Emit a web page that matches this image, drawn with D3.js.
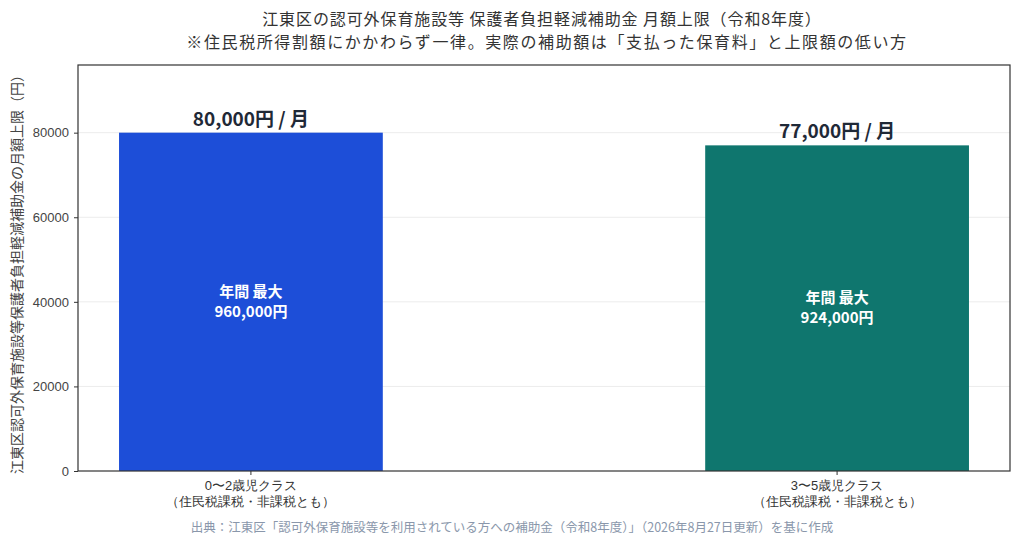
<!DOCTYPE html>
<html>
<head>
<meta charset="utf-8">
<script src="https://cdn.jsdelivr.net/npm/d3@7"></script>
<style>
  body { margin: 0; background: #fff; }
  svg { display: block; font-family: "Noto Sans CJK JP", "Noto Sans", sans-serif; }
</style>
</head>
<body>
<div id="chart"></div>
<script>
const categories = ["0〜2歳児クラス\n（住民税課税・非課税とも）", "3〜5歳児クラス\n（住民税課税・非課税とも）"];
const monthlyLimit = [80000, 77000];
const topLabels = ["80,000円 / 月", "77,000円 / 月"];
const innerLabels = [["年間 最大", "960,000円"], ["年間 最大", "924,000円"]];
const barColors = ["#1d4ed8", "#0f766e"];
const yTicks = [0, 20000, 40000, 60000, 80000];

const width = 1024;
const height = 540;
const margin = {top: 65, right: 14, bottom: 69, left: 78};
const plotW = width - margin.left - margin.right;
const plotH = height - margin.top - margin.bottom;

const svg = d3.select("#chart").append("svg")
  .attr("width", width)
  .attr("height", height);

// titles
const title = svg.append("g").attr("fill", "#333").attr("font-size", 16).attr("text-anchor", "middle");
title.append("text").attr("x", 542).attr("y", 25).attr("letter-spacing", 0.9)
  .text("江東区の認可外保育施設等 保護者負担軽減補助金 月額上限（令和8年度）");
title.append("text").attr("x", 547).attr("y", 48).attr("letter-spacing", 1.6)
  .text("※住民税所得割額にかかわらず一律。実際の補助額は「支払った保育料」と上限額の低い方");

const g = svg.append("g").attr("transform", `translate(${margin.left},${margin.top})`);

const x = d3.scaleBand()
  .domain(categories)
  .range([0, plotW])
  .paddingInner(0.55)
  .paddingOuter(0.07);

const y = d3.scaleLinear()
  .domain([0, 96000])
  .range([plotH, 0]);

// gridlines
g.append("g").selectAll("line")
  .data(yTicks.slice(1))
  .join("line")
  .attr("x1", 0).attr("x2", plotW)
  .attr("y1", d => y(d)).attr("y2", d => y(d))
  .attr("stroke", "#ececec")
  .attr("stroke-width", 1);

// bars
g.selectAll(".bar")
  .data(categories)
  .join("rect")
  .attr("class", "bar")
  .attr("x", d => x(d))
  .attr("width", x.bandwidth())
  .attr("y", (d, i) => y(monthlyLimit[i]))
  .attr("height", (d, i) => y(0) - y(monthlyLimit[i]))
  .attr("fill", (d, i) => barColors[i]);

// labels above bars
g.selectAll(".top-label")
  .data(categories)
  .join("text")
  .attr("class", "top-label")
  .attr("x", d => x(d) + x.bandwidth() / 2)
  .attr("y", (d, i) => y(monthlyLimit[i]) - 7)
  .attr("text-anchor", "middle")
  .attr("font-size", 19)
  .attr("font-weight", "bold")
  .attr("fill", "#1f2937")
  .text((d, i) => topLabels[i]);

// labels inside bars, one text per line
categories.forEach((c, i) => {
  innerLabels[i].forEach((line, j) => {
    g.append("text")
      .attr("class", "inner-label")
      .attr("x", x(c) + x.bandwidth() / 2)
      .attr("y", y(monthlyLimit[i] / 2) - 5 + j * 20)
      .attr("text-anchor", "middle")
      .attr("font-size", 15)
      .attr("font-weight", "bold")
      .attr("fill", "#fff")
      .text(line);
  });
});

// y axis
const yAxis = g.append("g")
  .call(d3.axisLeft(y).tickValues(yTicks).tickSize(4).tickPadding(5).tickFormat(d3.format("d")));
yAxis.select(".domain").remove();
yAxis.selectAll("line").attr("stroke", "#333");
yAxis.selectAll("text").attr("font-size", 13).attr("fill", "#444").attr("font-family", "inherit");

// x axis
const xAxis = g.append("g")
  .attr("transform", `translate(0,${plotH})`)
  .call(d3.axisBottom(x).tickSize(4).tickPadding(4));
xAxis.select(".domain").remove();
xAxis.selectAll("line").attr("stroke", "#333");
xAxis.selectAll("text").remove();
xAxis.selectAll(".tick").append("text")
  .attr("text-anchor", "middle")
  .attr("font-size", 13)
  .attr("fill", "#333")
  .selectAll("tspan")
  .data(d => d.split("\n"))
  .join("tspan")
  .attr("x", 0)
  .attr("y", (d, i) => 19 + i * 16)
  .text(d => d);

// frame
g.append("rect")
  .attr("width", plotW)
  .attr("height", plotH)
  .attr("fill", "none")
  .attr("stroke", "#333")
  .attr("stroke-width", 1.2);

// y axis title
svg.append("text")
  .attr("transform", `translate(22,${margin.top + plotH / 2 + 3}) rotate(-90)`)
  .attr("text-anchor", "middle")
  .attr("font-size", 14)
  .attr("fill", "#444")
  .text("江東区認可外保育施設等保護者負担軽減補助金の月額上限（円）");

// source
svg.append("text")
  .attr("x", 512)
  .attr("y", 532)
  .attr("text-anchor", "middle")
  .attr("font-size", 12.5)
  .attr("fill", "#8a97ab")
  .text("出典：江東区「認可外保育施設等を利用されている方への補助金（令和8年度）」（2026年8月27日更新）を基に作成");
</script>
</body>
</html>
